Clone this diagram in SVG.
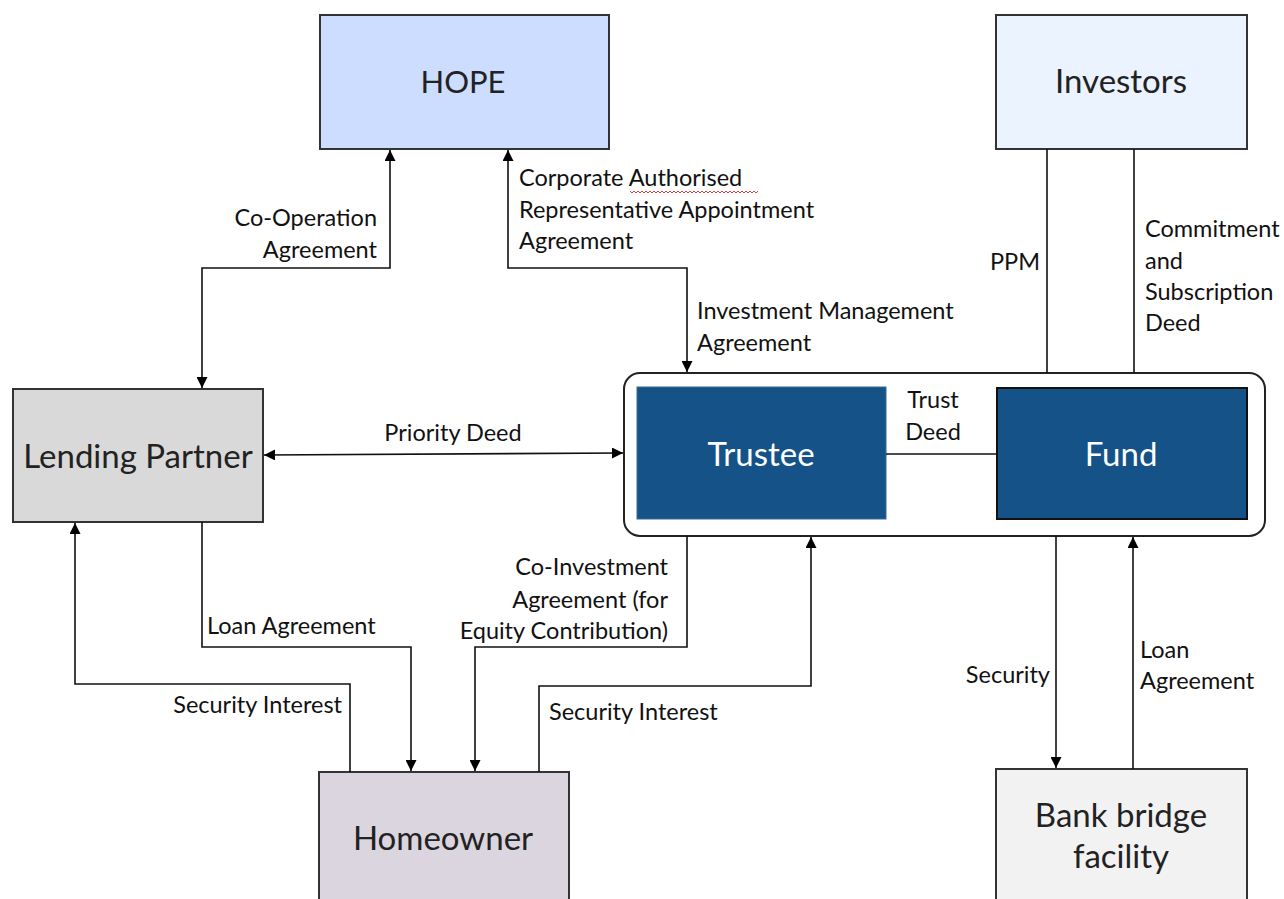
<svg xmlns="http://www.w3.org/2000/svg" width="1284" height="899" viewBox="0 0 1284 899">
  <defs>
    <marker id="arr" viewBox="0 0 10 10" refX="10" refY="5" markerWidth="12" markerHeight="11" markerUnits="userSpaceOnUse" orient="auto-start-reverse">
      <path d="M0,0 L10,5 L0,10 Z" fill="#000"/>
    </marker>
    <style>
      .box { stroke: #333; stroke-width: 2; }
      .node { font-family: Lato, "Open Sans", sans-serif; font-size: 33px; fill: #222; text-anchor: middle; }
      .white { fill: #fff; }
      .lbl { font-family: Lato, "Open Sans", sans-serif; font-size: 23.5px; fill: #111; }
      .end { text-anchor: end; }
      .mid { text-anchor: middle; }
      .line { fill: none; stroke: #111; stroke-width: 1.6; }
    </style>
  </defs>
  <rect width="1284" height="899" fill="#fff"/>

  <!-- parties -->
  <g id="hope">
    <rect class="box" x="320" y="15" width="289" height="134" fill="#CCDDFF"/>
    <text class="node" x="463" y="93" style="font-size:31px">HOPE</text>
  </g>
  <g id="investors">
    <rect class="box" x="996" y="15" width="251" height="134" fill="#EAF3FF"/>
    <text class="node" x="1121" y="93">Investors</text>
  </g>
  <g id="lending-partner">
    <rect class="box" x="13" y="389" width="250" height="133" fill="#D9D9D9"/>
    <text class="node" x="138" y="468">Lending Partner</text>
  </g>
  <g id="trust-structure">
    <rect x="624" y="373" width="641" height="163" rx="16" fill="#fff" stroke="#222" stroke-width="2"/>
  </g>
  <g id="trustee">
    <rect x="637" y="387" width="249" height="132" fill="#145288" stroke="#3a6a98" stroke-width="1"/>
    <text class="node white" x="761" y="466">Trustee</text>
  </g>
  <g id="fund">
    <rect x="997" y="388" width="250" height="131" fill="#145288" stroke="#111" stroke-width="2"/>
    <text class="node white" x="1121" y="466">Fund</text>
  </g>
  <g id="homeowner">
    <rect class="box" x="319" y="772" width="250" height="140" fill="#DBD5E0"/>
    <text class="node" x="443" y="850">Homeowner</text>
  </g>
  <g id="bank-bridge-facility">
    <rect class="box" x="996" y="769" width="251" height="143" fill="#F2F2F2"/>
    <text class="node" x="1121" y="827">Bank bridge</text>
    <text class="node" x="1121" y="868">facility</text>
  </g>

  <!-- agreements -->
  <g id="connectors">
    <path class="line" d="M390,150 V268 H202 V388" marker-start="url(#arr)" marker-end="url(#arr)"/>
    <path class="line" d="M508,150 V268 H687 V372" marker-start="url(#arr)" marker-end="url(#arr)"/>
    <path class="line" d="M1047,149 V373"/>
    <path class="line" d="M1134,149 V373"/>
    <path class="line" d="M264,455 L623,453" marker-start="url(#arr)" marker-end="url(#arr)"/>
    <path class="line" d="M886,454 H997"/>
    <path class="line" d="M202,522 V647 H411 V771" marker-end="url(#arr)"/>
    <path class="line" d="M350,772 V684 H75 V523" marker-end="url(#arr)"/>
    <path class="line" d="M687,536 V647 H475 V771" marker-end="url(#arr)"/>
    <path class="line" d="M539,772 V686 H811 V537" marker-end="url(#arr)"/>
    <path class="line" d="M1056,536 V768" marker-end="url(#arr)"/>
    <path class="line" d="M1133,769 V537" marker-end="url(#arr)"/>
    <!-- spell-check squiggle under "Authorised" -->
    <path d="M630,191 l2,2 2,-2 2,2 2,-2 2,2 2,-2 2,2 2,-2 2,2 2,-2 2,2 2,-2 2,2 2,-2 2,2 2,-2 2,2 2,-2 2,2 2,-2 2,2 2,-2 2,2 2,-2 2,2 2,-2 2,2 2,-2 2,2 2,-2 2,2 2,-2 2,2 2,-2 2,2 2,-2 2,2 2,-2 2,2 2,-2 2,2 2,-2 2,2 2,-2 2,2 2,-2 2,2 2,-2 2,2 2,-2 2,2 2,-2 2,2 2,-2 2,2 2,-2 2,2 2,-2 2,2 2,-2 2,2 2,-2 2,2 2,-2" fill="none" stroke="#e23b3b" stroke-width="1"/>
  </g>

  <!-- agreement labels -->
  <g id="labels">
    <text class="lbl end" x="377" y="226">Co-Operation</text>
    <text class="lbl end" x="377" y="258">Agreement</text>
    <text class="lbl" x="519" y="186">Corporate Authorised</text>
    <text class="lbl" x="519" y="218">Representative Appointment</text>
    <text class="lbl" x="519" y="249">Agreement</text>
    <text class="lbl" x="697" y="319">Investment Management</text>
    <text class="lbl" x="697" y="351">Agreement</text>
    <text class="lbl end" x="1040" y="270">PPM</text>
    <text class="lbl" x="1145" y="237">Commitment</text>
    <text class="lbl" x="1145" y="269">and</text>
    <text class="lbl" x="1145" y="300">Subscription</text>
    <text class="lbl" x="1145" y="331">Deed</text>
    <text class="lbl mid" x="453" y="441">Priority Deed</text>
    <text class="lbl mid" x="933" y="408">Trust</text>
    <text class="lbl mid" x="933" y="440">Deed</text>
    <text class="lbl" x="207" y="634">Loan Agreement</text>
    <text class="lbl end" x="342" y="713">Security Interest</text>
    <text class="lbl end" x="668" y="575">Co-Investment</text>
    <text class="lbl end" x="668" y="608">Agreement (for</text>
    <text class="lbl end" x="668" y="639">Equity Contribution)</text>
    <text class="lbl" x="549" y="720">Security Interest</text>
    <text class="lbl end" x="1050" y="683">Security</text>
    <text class="lbl" x="1140" y="658">Loan</text>
    <text class="lbl" x="1140" y="689">Agreement</text>
  </g>
</svg>
